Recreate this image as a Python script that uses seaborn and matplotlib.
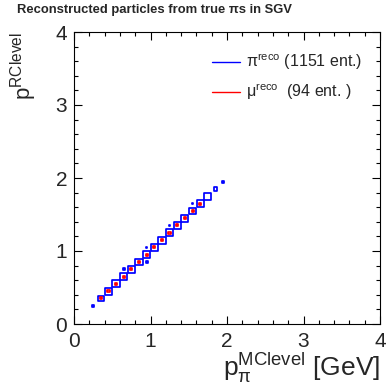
import matplotlib
matplotlib.use("Agg")
import matplotlib.pyplot as plt
import numpy as np
import pandas as pd
import seaborn as sns
from matplotlib.collections import PatchCollection
from matplotlib.lines import Line2D
from matplotlib.patches import Rectangle
from matplotlib.ticker import MultipleLocator

# bin width of the 2D histograms (GeV)
BIN = 0.1

# pions: bin centres and contents
pi_x = [0.25, 0.35, 0.45, 0.55, 0.65, 0.75, 0.85, 0.95, 1.05, 1.15, 1.25, 1.35,
        1.45, 1.55, 1.65, 1.75, 1.85, 1.95, 0.65, 0.95, 0.95, 1.25, 1.55]
pi_y = [0.25, 0.35, 0.45, 0.55, 0.65, 0.75, 0.85, 0.95, 1.05, 1.15, 1.25, 1.35,
        1.45, 1.55, 1.65, 1.75, 1.85, 1.95, 0.75, 1.05, 0.85, 1.35, 1.65]
pi_n = [8, 46, 72, 76, 78, 80, 74, 82, 85, 78, 76, 74,
        72, 70, 66, 68, 20, 8, 4, 3, 4, 3, 4]

# muons: bin centres and contents
mu_x = [0.35, 0.45, 0.55, 0.65, 0.75, 0.85, 0.95, 1.05, 1.15, 1.25, 1.35, 1.45, 1.55, 1.65]
mu_y = [0.35, 0.45, 0.55, 0.65, 0.75, 0.85, 0.95, 1.05, 1.15, 1.25, 1.35, 1.45, 1.55, 1.65]
mu_n = [7, 8, 5, 7, 7, 9, 8, 8, 6, 8, 6, 4, 5, 6]

labels = [r"$\mathregular{\pi^{reco}}$ (1151 ent.)",
          r"$\mathregular{\mu^{reco}}$  (94 ent. )"]

pi = pd.DataFrame({"x": pi_x, "y": pi_y, "n": pi_n})
mu = pd.DataFrame({"x": mu_x, "y": mu_y, "n": mu_n})

sns.set_theme(style="ticks")
plt.rcParams["font.family"] = ["Liberation Sans", "DejaVu Sans"]
plt.rcParams["mathtext.fontset"] = "custom"
plt.rcParams["mathtext.rm"] = "Liberation Sans"
plt.rcParams["mathtext.it"] = "Liberation Sans:italic"


def draw_boxes(ax, df, color, zmax):
    # ROOT "box" option: box area proportional to bin content
    half = 0.5 * BIN * np.sqrt(df["n"] / zmax)
    rects = [Rectangle((x - h, y - h), 2 * h, 2 * h)
             for x, y, h in zip(df["x"], df["y"], half)]
    ax.add_collection(PatchCollection(rects, facecolor="none",
                                      edgecolor=color, linewidth=1.25))


fig = plt.figure(figsize=(3.88, 3.84), dpi=100)
ax = fig.add_axes([74 / 388, 1 - 324 / 384, 306 / 388, 292 / 384])

zmax = pi["n"].max()
draw_boxes(ax, pi, "#0000ff", zmax)
draw_boxes(ax, mu, "#ff0000", zmax)

ax.set_xlim(0, 4)
ax.set_ylim(0, 4)
for axis in (ax.xaxis, ax.yaxis):
    axis.set_major_locator(MultipleLocator(1))
    axis.set_minor_locator(MultipleLocator(0.2))
ax.tick_params(which="both", direction="in", top=True, right=True,
               width=0.8, color="black")
ax.tick_params(which="major", length=5.8, labelsize=15)
ax.tick_params(which="minor", length=2.9)
ax.tick_params(axis="x", pad=6)
ax.tick_params(axis="y", pad=5)
for s in ax.spines.values():
    s.set_linewidth(0.8)
    s.set_color("black")

ax.set_xlabel(r"$\mathregular{p_{π}^{MClevel}}$ [GeV]", loc="right", fontsize=19, labelpad=0)
ax.set_ylabel(r"$\mathregular{p^{RClevel}}$", loc="top", fontsize=16, labelpad=12)

handles = [Line2D([], [], color="#0000ff", lw=1.0),
           Line2D([], [], color="#ff0000", lw=1.0)]
ax.legend(handles, labels, loc="upper left", bbox_to_anchor=(0.451, 0.932),
          frameon=False, fontsize=11.5, handlelength=1.75, handletextpad=0.4,
          labelspacing=0.62, borderpad=0, borderaxespad=0)

fig.text(17 / 388, 1 - 4 / 384, "Reconstructed particles from true πs in SGV",
         fontsize=9.4, fontweight="bold", va="top", ha="left")

fig.savefig("out.png", dpi=100)
